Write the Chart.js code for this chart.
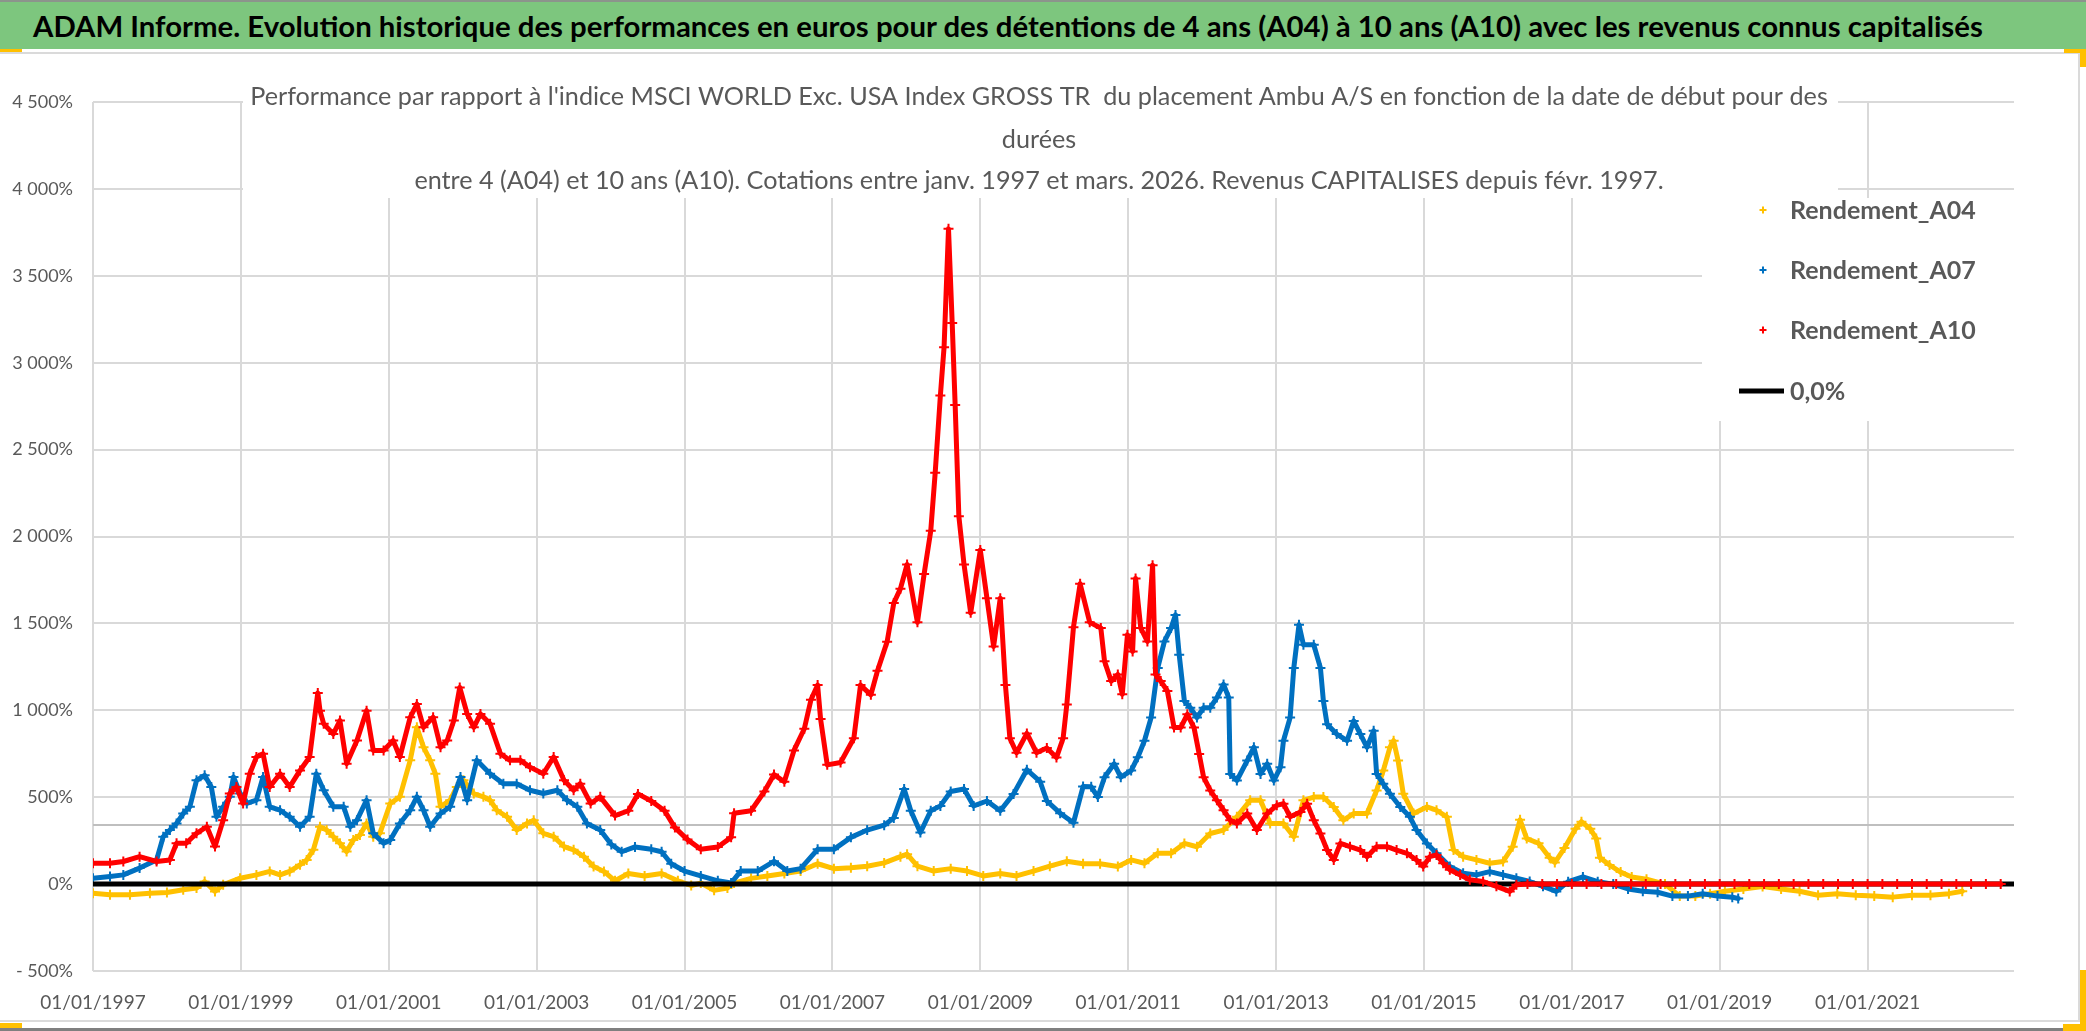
<!DOCTYPE html>
<html>
<head>
<meta charset="utf-8">
<script src="https://cdn.jsdelivr.net/npm/chart.js@4.4.1/dist/chart.umd.min.js"></script>
<style>
html,body{margin:0;padding:0;background:#fff;}
#wrap{position:relative;width:2086px;height:1031px;overflow:hidden;background:#fff;}
#header{position:absolute;left:0;top:0;width:2086px;height:49px;background:#7DC67E;border-top:2px solid #8C948C;box-sizing:border-box;z-index:3;}
#headerText{position:absolute;left:33px;top:0;white-space:nowrap;font-family:Lato,"Liberation Sans",sans-serif;font-weight:700;color:#000;line-height:47px;font-size:30px;}
#frame{position:absolute;left:-2px;top:52px;width:2082px;height:970px;border:2px solid #DADADA;box-sizing:border-box;z-index:0;}
#bottomLine{position:absolute;left:0;top:1028px;width:2086px;height:3px;background:#7F7F7F;z-index:4;}
.handle{position:absolute;background:#FFC000;z-index:5;}
canvas{position:absolute;left:0;top:0;z-index:1;}
</style>
</head>
<body>
<div id="wrap">
  <div id="frame"></div>
  <canvas id="c" width="2086" height="1031"></canvas>
  <div id="header"><span id="headerText">ADAM Informe. Evolution historique des performances en euros pour des détentions de 4 ans (A04) à 10 ans (A10) avec les revenus connus capitalisés</span></div>
  <div id="bottomLine"></div>
  <div class="handle" style="left:0;top:49px;width:22px;height:3px;"></div>
  <div class="handle" style="left:2064px;top:49px;width:22px;height:4px;"></div>
  <div class="handle" style="left:2080px;top:49px;width:6px;height:18px;"></div>
  <div class="handle" style="left:2080px;top:970px;width:6px;height:61px;"></div>
  <div class="handle" style="left:2063px;top:1024px;width:23px;height:7px;"></div>
  <div class="handle" style="left:0;top:1023px;width:22px;height:5px;"></div>
</div>
<script>
// ---------- DATA ----------
const tickYears = [1997, 1999, 2001, 2003, 2005, 2007, 2009, 2011, 2013, 2015, 2017, 2019, 2021];
const xMin = 1997, xMax = 2022.98;
const yMin = -500, yMax = 4500, yStep = 500;

const datesA04 = [1997.00,1997.23,1997.50,1997.77,1998.00,1998.22,1998.40,1998.51,1998.65,1998.76,1998.99,1999.21,1999.39,1999.53,1999.66,1999.80,1999.89,1999.98,2000.07,2000.16,2000.25,2000.34,2000.43,2000.52,2000.61,2000.70,2000.79,2000.88,2001.02,2001.15,2001.29,2001.38,2001.47,2001.56,2001.63,2001.70,2001.83,2001.92,2002.01,2002.15,2002.28,2002.37,2002.46,2002.60,2002.73,2002.87,2002.96,2003.09,2003.23,2003.37,2003.50,2003.64,2003.77,2003.91,2004.06,2004.24,2004.46,2004.69,2004.91,2005.09,2005.22,2005.40,2005.58,2005.67,2005.90,2006.12,2006.35,2006.57,2006.80,2007.02,2007.25,2007.47,2007.70,2007.92,2008.01,2008.15,2008.37,2008.60,2008.82,2009.04,2009.27,2009.49,2009.72,2009.94,2010.17,2010.39,2010.62,2010.86,2011.04,2011.22,2011.40,2011.58,2011.76,2011.93,2012.11,2012.29,2012.47,2012.65,2012.79,2012.92,2013.10,2013.24,2013.37,2013.51,2013.64,2013.78,2013.91,2014.05,2014.23,2014.36,2014.45,2014.54,2014.59,2014.65,2014.72,2014.86,2015.04,2015.17,2015.31,2015.40,2015.53,2015.71,2015.89,2016.07,2016.20,2016.30,2016.39,2016.55,2016.70,2016.77,2016.90,2017.05,2017.13,2017.25,2017.33,2017.38,2017.51,2017.66,2017.81,2018.01,2018.26,2018.46,2018.67,2018.87,2019.07,2019.32,2019.58,2019.83,2020.08,2020.33,2020.59,2020.84,2021.09,2021.34,2021.60,2021.85,2022.10,2022.28];
const rendA04 = [-52,-61,-61,-52,-48,-32,-23,15,-42,-4,34,53,73,53,73,111,139,197,330,311,273,235,187,254,282,349,273,292,464,502,712,902,788,712,635,445,483,559,597,521,502,483,425,387,311,349,368,292,273,216,197,158,101,73,19,61,47,61,19,-8,6,-36,-22,6,33,47,61,75,117,89,94,103,122,158,172,103,75,89,75,47,61,47,75,103,131,117,117,101,139,120,177,177,234,215,291,311,387,482,482,349,349,272,482,501,501,444,368,406,406,539,653,787,825,711,520,406,444,425,387,196,158,139,120,130,215,370,262,235,152,124,207,318,359,318,262,152,110,69,41,28,0,-69,-69,-55,-41,-28,-14,-28,-41,-64,-55,-64,-69,-75,-64,-64,-55,-41];

const datesA07 = [1997.00,1997.23,1997.41,1997.63,1997.86,1997.95,1998.04,1998.13,1998.22,1998.31,1998.40,1998.51,1998.60,1998.67,1998.76,1998.85,1998.90,1998.99,1999.08,1999.21,1999.30,1999.39,1999.53,1999.66,1999.80,1999.93,2000.02,2000.12,2000.25,2000.39,2000.48,2000.57,2000.70,2000.79,2000.93,2001.02,2001.15,2001.29,2001.38,2001.47,2001.56,2001.70,2001.83,2001.97,2002.06,2002.19,2002.37,2002.55,2002.73,2002.91,2003.09,2003.28,2003.41,2003.55,2003.68,2003.86,2004.01,2004.15,2004.33,2004.55,2004.69,2004.82,2005.00,2005.22,2005.45,2005.63,2005.76,2005.99,2006.21,2006.39,2006.57,2006.80,2007.02,2007.25,2007.47,2007.70,2007.83,2007.97,2008.06,2008.19,2008.33,2008.46,2008.60,2008.78,2008.91,2009.09,2009.27,2009.45,2009.63,2009.81,2009.90,2010.08,2010.26,2010.39,2010.50,2010.59,2010.68,2010.81,2010.90,2011.04,2011.13,2011.22,2011.31,2011.40,2011.49,2011.58,2011.64,2011.69,2011.76,2011.84,2011.93,2012.02,2012.11,2012.20,2012.29,2012.36,2012.38,2012.47,2012.61,2012.70,2012.79,2012.88,2012.97,2013.06,2013.10,2013.19,2013.24,2013.31,2013.37,2013.51,2013.60,2013.64,2013.69,2013.82,2013.96,2014.05,2014.14,2014.23,2014.32,2014.36,2014.45,2014.54,2014.68,2014.81,2014.90,2015.04,2015.17,2015.35,2015.53,2015.71,2015.89,2016.07,2016.25,2016.43,2016.61,2016.79,2016.95,2017.15,2017.35,2017.56,2017.76,2017.96,2018.16,2018.36,2018.57,2018.77,2018.97,2019.17,2019.25];
const rendA07 = [34,44,53,92,139,273,311,349,406,445,597,626,559,387,445,502,616,521,464,483,616,445,425,387,330,387,635,540,445,445,330,368,483,292,235,254,349,425,502,425,330,406,445,616,483,712,635,578,578,540,521,540,483,445,349,311,228,186,214,200,186,117,75,47,19,6,75,75,131,75,89,200,200,269,311,339,381,547,422,297,422,450,533,547,450,478,422,519,658,589,478,408,353,561,560,501,615,692,615,653,730,825,958,1244,1396,1473,1549,1320,1053,1015,958,1015,1015,1073,1149,1073,634,596,711,787,634,692,596,673,825,958,1244,1492,1377,1377,1244,1053,920,863,825,939,863,787,882,634,577,520,444,387,311,234,177,101,63,53,72,53,34,15,-13,-42,14,41,14,0,-28,-41,-47,-69,-69,-55,-69,-75,-83];

const datesA10 = [1997.00,1997.23,1997.41,1997.63,1997.86,1998.04,1998.13,1998.26,1998.40,1998.54,1998.65,1998.76,1998.85,1998.94,1999.03,1999.12,1999.21,1999.30,1999.39,1999.53,1999.66,1999.80,1999.93,2000.04,2000.07,2000.12,2000.25,2000.34,2000.43,2000.57,2000.70,2000.79,2000.93,2001.06,2001.15,2001.29,2001.38,2001.47,2001.60,2001.70,2001.79,2001.88,2001.96,2002.06,2002.15,2002.24,2002.37,2002.51,2002.64,2002.78,2002.91,2003.09,2003.23,2003.37,2003.50,2003.59,2003.73,2003.86,2004.06,2004.24,2004.37,2004.55,2004.73,2004.87,2005.04,2005.22,2005.45,2005.63,2005.67,2005.90,2006.08,2006.21,2006.35,2006.48,2006.62,2006.71,2006.80,2006.84,2006.93,2007.11,2007.29,2007.38,2007.52,2007.61,2007.74,2007.83,2007.92,2008.01,2008.15,2008.24,2008.33,2008.39,2008.46,2008.51,2008.57,2008.62,2008.66,2008.71,2008.78,2008.87,2009.00,2009.09,2009.18,2009.27,2009.34,2009.40,2009.49,2009.63,2009.76,2009.90,2010.03,2010.12,2010.17,2010.26,2010.35,2010.48,2010.63,2010.68,2010.77,2010.86,2010.92,2010.99,2011.06,2011.10,2011.17,2011.26,2011.33,2011.37,2011.44,2011.53,2011.62,2011.71,2011.80,2011.89,2011.96,2012.02,2012.11,2012.20,2012.29,2012.38,2012.47,2012.61,2012.74,2012.88,2013.01,2013.10,2013.19,2013.33,2013.42,2013.51,2013.60,2013.69,2013.78,2013.87,2014.00,2014.14,2014.23,2014.36,2014.50,2014.63,2014.77,2014.90,2014.99,2015.08,2015.17,2015.26,2015.35,2015.49,2015.62,2015.80,2015.98,2016.16,2016.25,2016.40,2016.60,2016.80,2017.00,2017.20,2017.40,2017.60,2017.80,2018.00,2018.20,2018.40,2018.60,2018.80,2019.00,2019.20,2019.40,2019.60,2019.80,2020.00,2020.20,2020.40,2020.60,2020.80,2021.00,2021.20,2021.40,2021.60,2021.80,2022.00,2022.20,2022.40,2022.60,2022.80,2022.98];
const rendA10 = [120,120,130,158,130,139,235,235,292,330,216,368,521,559,464,635,731,750,559,635,559,654,731,1100,998,922,864,941,693,826,998,769,769,826,731,960,1036,902,960,788,826,941,1131,979,902,979,922,750,712,712,673,635,731,597,540,578,464,502,394,422,519,478,422,325,256,200,214,269,408,422,533,630,589,769,894,1061,1145,950,686,700,839,1145,1089,1228,1395,1617,1700,1839,1506,1784,2033,2367,2811,3089,3770,3228,2756,2117,1839,1561,1922,1645,1367,1645,1145,839,756,867,756,783,728,839,1033,1478,1728,1506,1473,1282,1168,1206,1092,1434,1339,1758,1473,1396,1835,1206,1168,1111,901,901,977,901,749,615,539,482,425,368,349,406,311,406,453,463,387,415,463,368,291,196,139,234,215,196,158,215,215,196,177,139,101,158,168,120,82,53,25,15,-13,-42,-4,0,0,0,0,0,0,0,0,0,0,0,0,0,0,0,0,0,0,0,0,0,0,0,0,0,0,0,0,0,0,0,0,0];

const zeroDates = [1997, 2022.98];
const zeroValues = [0, 0];
const refDates = [1997, 2022.98];
const refValues = [340, 340];

const seriesNames = ['Rendement_A04', 'Rendement_A07', 'Rendement_A10', '0,0%'];
const seriesColors = ['#FFC000', '#0070C0', '#FF0000', '#000000'];

const headerTitle = document.getElementById('headerText').textContent;
const subtitleLines = [
  "Performance par rapport à l'indice MSCI WORLD Exc. USA Index GROSS TR  du placement Ambu A/S en fonction de la date de début pour des",
  "durées",
  "entre 4 (A04) et 10 ans (A10). Cotations entre janv. 1997 et mars. 2026. Revenus CAPITALISES depuis févr. 1997."
];

// ---------- HELPERS ----------
const FAMILY = 'Lato, "Liberation Sans", sans-serif';
function pts(xs, ys) { return xs.map((x, i) => ({ x: x, y: ys[i] })); }
const mctx = document.createElement('canvas').getContext('2d');
function fitSize(text, weight, targetW) {
  mctx.font = weight + ' 100px ' + FAMILY;
  return 100 * targetW / mctx.measureText(text).width;
}
document.getElementById('headerText').style.fontSize = fitSize(headerTitle, 700, 1951).toFixed(2) + 'px';

function fmtPct(v) {
  const a = Math.abs(v);
  let s = a >= 1000 ? Math.floor(a / 1000) + ' ' + String(a % 1000).padStart(3, '0') : String(a);
  return (v < 0 ? '- ' : '') + s + '%';
}

const crossStyle = { showLine: true, pointStyle: 'cross', pointRadius: 5, pointHoverRadius: 5, pointBorderWidth: 2, borderWidth: 5, fill: false, borderJoinStyle: 'round', borderCapStyle: 'round' };

const overlayPlugin = {
  id: 'overlay',
  afterDraw(chart) {
    const ctx = chart.ctx;
    ctx.save();
    ctx.fillStyle = '#ffffff';
    ctx.fillRect(243, 70, 1595, 128);
    const subSize = fitSize(subtitleLines[0], 400, 1578);
    ctx.font = '400 ' + subSize.toFixed(2) + 'px ' + FAMILY;
    ctx.fillStyle = '#595959';
    ctx.textAlign = 'center';
    ctx.textBaseline = 'middle';
    const subY = [97, 140, 181];
    subtitleLines.forEach((t, i) => ctx.fillText(t, 1039, subY[i]));
    ctx.fillStyle = '#ffffff';
    ctx.fillRect(1702, 198, 320, 223);
    const legSize = fitSize(seriesNames[0], 700, 186);
    ctx.font = '700 ' + legSize.toFixed(2) + 'px ' + FAMILY;
    ctx.textAlign = 'left';
    const legY = [210, 270, 330, 391];
    seriesNames.forEach((name, i) => {
      const y = legY[i];
      ctx.strokeStyle = seriesColors[i];
      if (i < 3) {
        ctx.lineWidth = 2;
        ctx.beginPath();
        ctx.moveTo(1759.5, y); ctx.lineTo(1766.5, y);
        ctx.moveTo(1763, y - 3.5); ctx.lineTo(1763, y + 3.5);
        ctx.stroke();
      } else {
        ctx.lineWidth = 5;
        ctx.beginPath();
        ctx.moveTo(1739, y); ctx.lineTo(1784, y);
        ctx.stroke();
      }
      ctx.fillStyle = '#595959';
      ctx.fillText(name, 1790, y + 1);
    });
    ctx.restore();
  }
};

new Chart(document.getElementById('c'), {
  type: 'scatter',
  data: {
    datasets: [
      Object.assign({ label: seriesNames[2], data: pts(datesA10, rendA10), borderColor: seriesColors[2], backgroundColor: seriesColors[2] }, crossStyle),
      { label: seriesNames[3], data: pts(zeroDates, zeroValues), showLine: true, borderColor: '#000', borderWidth: 5, pointRadius: 0, pointHoverRadius: 0 },
      Object.assign({ label: seriesNames[1], data: pts(datesA07, rendA07), borderColor: seriesColors[1], backgroundColor: seriesColors[1] }, crossStyle),
      Object.assign({ label: seriesNames[0], data: pts(datesA04, rendA04), borderColor: seriesColors[0], backgroundColor: seriesColors[0] }, crossStyle),
      { label: 'ref', data: pts(refDates, refValues), showLine: true, borderColor: '#BFBFBF', borderWidth: 2, pointRadius: 0, pointHoverRadius: 0 }
    ]
  },
  options: {
    responsive: false,
    devicePixelRatio: 1,
    animation: false,
    events: [],
    layout: { padding: { top: 102, right: 72, left: 0, bottom: 0 } },
    plugins: { legend: { display: false }, tooltip: { enabled: false }, title: { display: false } },
    scales: {
      x: {
        type: 'linear', min: xMin, max: xMax,
        afterBuildTicks: ax => { ax.ticks = tickYears.map(v => ({ value: v })); },
        afterFit: s => { s.height = 60; },
        grid: { color: '#D9D9D9', lineWidth: 2, drawTicks: false },
        border: { display: false },
        ticks: { padding: 20, color: '#595959', font: { family: FAMILY, size: 19 }, maxRotation: 0, autoSkip: false, callback: v => '01/01/' + v }
      },
      y: {
        min: yMin, max: yMax,
        afterFit: s => { s.width = 93; },
        grid: { color: '#D9D9D9', lineWidth: 2, drawTicks: false },
        border: { display: false },
        ticks: { stepSize: yStep, padding: 20, color: '#595959', font: { family: FAMILY, size: 18 }, callback: v => fmtPct(v) }
      }
    }
  },
  plugins: [overlayPlugin]
});
</script>
</body>
</html>
